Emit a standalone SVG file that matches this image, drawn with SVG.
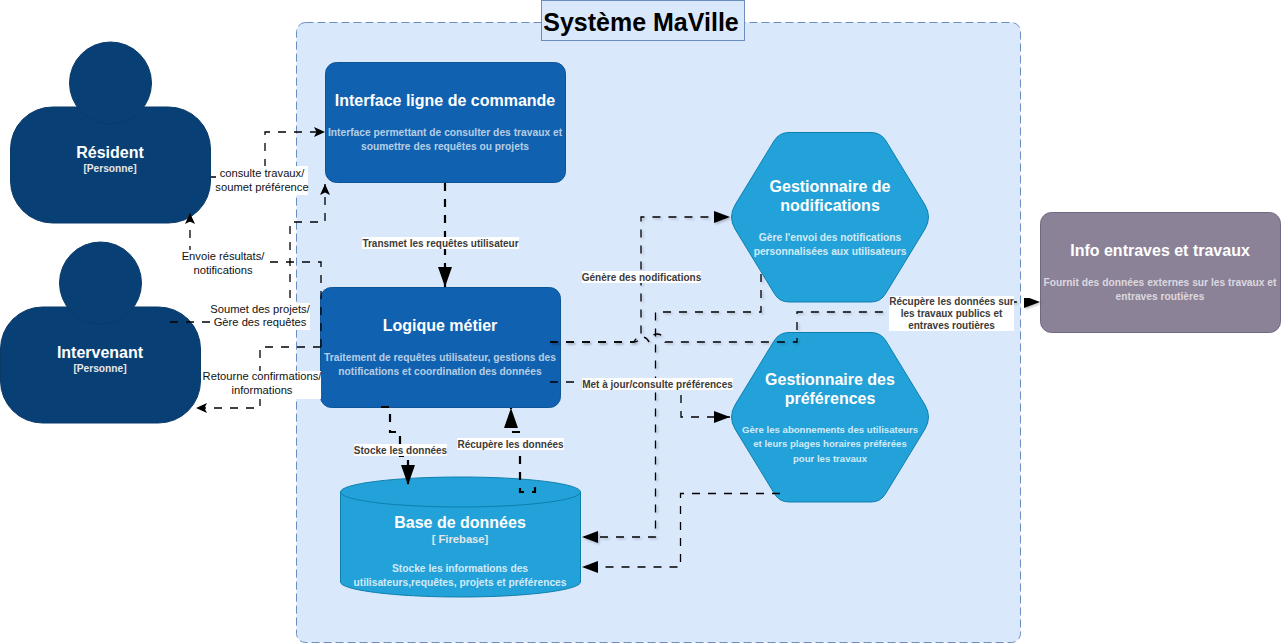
<svg xmlns="http://www.w3.org/2000/svg" width="1282" height="644" viewBox="0 0 1282 644">
<style>
text{font-family:"Liberation Sans",Arial,sans-serif;text-anchor:middle}
.t{font-weight:bold;font-size:16px;fill:#fff}
.sub{font-weight:bold;font-size:10.2px;fill:#e6e6e6}
.d{font-weight:bold;font-size:10.25px;fill:#fff;fill-opacity:.7}
.db{font-weight:bold;font-size:10.25px;fill:#fff;fill-opacity:.8}
.ds{font-size:9.6px}
.lb{font-size:11.2px;fill:#111}
.lg{font-weight:bold;font-size:10px;fill:#3b3b3b}
.w{fill:#fff}
.c{fill:none;stroke:#000;stroke-width:1.3;stroke-dasharray:8 8}
.k{fill:none;stroke:#000;stroke-width:2.2;stroke-dasharray:8 8}
.p{fill:#083f75;stroke:#0a3a68}
.b1{fill:#1061b0;stroke:#0d5595}
.b2{fill:#23a2d9;stroke:#0e7fad}
</style>
<defs>
<marker id="s" markerUnits="userSpaceOnUse" markerWidth="14" markerHeight="12" refX="11" refY="5" orient="auto"><path d="M0,0L11,5L0,10L2.5,5Z" fill="#000"/></marker>
<marker id="l" markerUnits="userSpaceOnUse" markerWidth="18" markerHeight="14" refX="16" refY="6" orient="auto"><path d="M0,0L16,6L0,12Z" fill="#000"/></marker>
<marker id="x" markerUnits="userSpaceOnUse" markerWidth="22" markerHeight="16" refX="20" refY="7" orient="auto"><path d="M0,0L20,7L0,14Z" fill="#000"/></marker>
<filter id="sh" x="-10%" y="-10%" width="120%" height="120%"><feDropShadow dx="1.5" dy="1.5" stdDeviation="1.2" flood-opacity=".22"/></filter>
</defs>

<g id="container"><rect x="296.5" y="22.5" width="724" height="620" rx="9" fill="#dae8fc" stroke="#6c8ebf" stroke-dasharray="8 4"/></g>
<g id="title"><rect x="541.5" y="0.5" width="203" height="40" fill="#dae8fc" stroke="#6c8ebf"/><text x="641" y="31" font-size="25" font-weight="bold" fill="#000">Système MaVille</text></g>

<g id="resident"><rect class="p" x="10.5" y="107" width="200" height="116" rx="42"/><circle class="p" cx="110.5" cy="83" r="41"/><text class="t" x="110" y="158">Résident</text><text class="sub" x="110" y="172">[Personne]</text></g>
<g id="intervenant"><rect class="p" x="0.5" y="307" width="200" height="116" rx="42"/><circle class="p" cx="100.5" cy="283" r="41"/><text class="t" x="100" y="358">Intervenant</text><text class="sub" x="100" y="372">[Personne]</text></g>

<g id="interface"><rect class="b1" x="325.5" y="62.500" width="240" height="120" rx="11"/><text class="t" x="445" y="106">Interface ligne de commande</text><text class="d" x="445" y="136">Interface permettant de consulter des travaux et</text><text class="d" x="445" y="150">soumettre des requêtes ou projets</text></g>
<g id="logique"><rect class="b1" x="320.5" y="287.500" width="240" height="120" rx="11"/><text class="t" x="440" y="331">Logique métier</text><text class="d" x="440" y="361">Traitement de requêtes utilisateur, gestions des</text><text class="d" x="440" y="375">notifications et coordination des données</text></g>
<g id="base"><path class="b2" d="M340.5,492V582C340.5,590 394,597 460.5,597S580.5,590 580.5,582V492Z"/><ellipse class="b2" cx="460.5" cy="492" rx="120" ry="15"/><text class="t" x="460" y="528">Base de données</text><text class="sub" x="460" y="543" style="font-size:11.200px">[ Firebase]</text><text class="db" x="460" y="572">Stocke les informations des</text><text class="db" x="460" y="586">utilisateurs,requêtes, projets et préférences</text></g>
<g id="notifications"><path class="b2" d="M789,132.500H871Q881,132.500 886,141L925,205Q932,217 925,229L886,293Q881,302 871,302H789Q779,302 774,293L735,229Q728,217 735,205L774,141Q779,132.500 789,132.500Z"/><text class="t" x="830" y="192">Gestionnaire de</text><text class="t" x="830" y="211">nodifications</text><text class="db" x="830" y="241">Gère l'envoi des notifications</text><text class="db" x="830" y="255">personnalisées aux utilisateurs</text></g>
<g id="preferences"><path class="b2" d="M789,332.500H871Q881,332.500 886,341L925,405Q932,417 925,429L886,493Q881,502 871,502H789Q779,502 774,493L735,429Q728,417 735,405L774,341Q779,332.500 789,332.500Z"/><text class="t" x="830" y="385">Gestionnaire des</text><text class="t" x="830" y="404">préférences</text><text class="db ds" x="830" y="433">Gère les abonnements des utilisateurs</text><text class="db ds" x="830" y="447">et leurs plages horaires préférées</text><text class="db ds" x="830" y="462">pour les travaux</text></g>
<g id="externe"><rect x="1040.500" y="212.500" width="240" height="120" rx="11" fill="#8c8298" stroke="#6e6880"/><text class="t" x="1160" y="256">Info entraves et travaux</text><text class="d" x="1160" y="286">Fournit des données externes sur les travaux et</text><text class="d" x="1160" y="300">entraves routières</text></g>

<g id="connectors">
<path class="c" marker-end="url(#s)" d="M211,177H265V132H325"/>
<path class="c" marker-end="url(#s)" d="M170,322H290V222H325V184"/>
<path class="c" marker-end="url(#s)" d="M321,347V262H190V213"/>
<path class="c" marker-end="url(#s)" d="M321,347H260V408H196"/>
<path class="k" marker-end="url(#x)" d="M445,183V287"/>
<path class="k" marker-end="url(#x)" d="M381,407H390V432H400V456H408V485"/>
<path class="k" marker-end="url(#x)" d="M535,487V492H520V432H511V408"/>
<path class="c" filter="url(#sh)" marker-end="url(#l)" d="M550,342H634Q640,342 641,334V217H730"/>
<path class="c" filter="url(#sh)" marker-end="url(#l)" d="M550,342H634A8,8 0 0 1 649,342A8,8 0 0 1 665,342H797V312H960V302H1040"/>
<path class="c" filter="url(#sh)" marker-end="url(#l)" d="M761,274V312H655.500V537H582"/>
<path class="c" marker-end="url(#l)" d="M550,382H681V417H730"/>
<path class="c" marker-end="url(#l)" d="M780,493.500H680.500V567H582"/>
</g>

<g id="labels">
<rect class="w" x="216" y="166" width="92" height="29"/><text class="lb" x="262" y="177">consulte travaux/</text><text class="lb" x="262" y="191">soumet préférence</text>
<rect class="w" x="183" y="250" width="81" height="28"/><text class="lb" x="223" y="260">Envoie résultats/</text><text class="lb" x="223" y="274">notifications</text>
<rect class="w" x="211" y="303" width="99" height="27"/><text class="lb" x="260" y="313">Soumet des projets/</text><text class="lb" x="260" y="326">Gère des requêtes</text>
<rect class="w" x="204" y="371" width="117" height="28"/><text class="lb" x="262" y="380">Retourne confirmations/</text><text class="lb" x="262" y="394">informations</text>
<rect class="w" x="362" y="237" width="157" height="12"/><text class="lg" x="440.500" y="246.500">Transmet les requêtes utilisateur</text>
<rect class="w" x="354" y="444" width="93" height="12"/><text class="lg" x="400.500" y="453.500">Stocke les données</text>
<rect class="w" x="457" y="438" width="107" height="12"/><text class="lg" x="510.500" y="447.500">Récupère les données</text>
<rect class="w" x="582" y="271" width="119" height="12"/><text class="lg" x="641.500" y="280.500">Génère des nodifications</text>
<rect class="w" x="582" y="378" width="151" height="12"/><text class="lg" x="657.500" y="387.500">Met à jour/consulte préférences</text>
<rect class="w" x="889" y="296" width="125" height="35"/><text class="lg" x="951.500" y="304.500">Récupère les données sur</text><text class="lg" x="951.500" y="316.500">les travaux publics et</text><text class="lg" x="951.500" y="328.500">entraves routières</text>
</g>
</svg>
